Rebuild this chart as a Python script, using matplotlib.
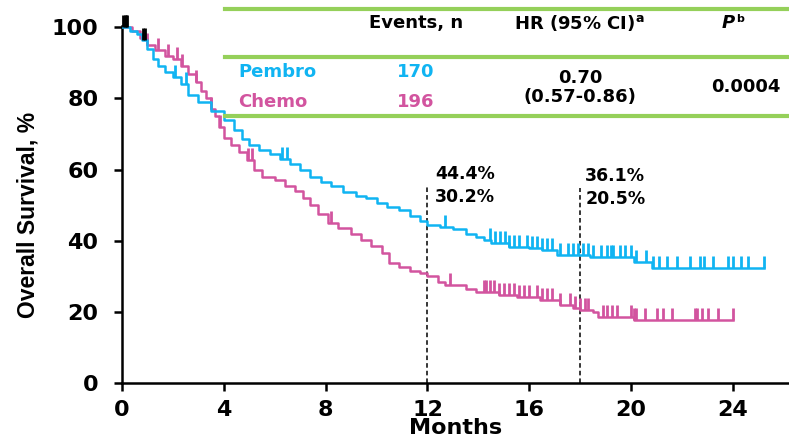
import numpy as np
import matplotlib.pyplot as plt

plt.rcParams['font.family'] = ['DejaVu Sans']
plt.rcParams['font.weight'] = 'bold'
plt.rcParams['mathtext.default'] = 'bf'

BLUE = '#10B4F2'
PINK = '#D2549F'
GREEN = '#95D05A'

# Kaplan-Meier steps (months, % alive)
pem_t = [0, 0.3, 0.6, 0.8, 1.0, 1.2, 1.4, 1.7, 2.0, 2.3, 2.6, 3.0, 3.5, 4.0, 4.4, 4.7,
         5.0, 5.4, 5.8, 6.2, 6.6, 7.0, 7.4, 7.8, 8.2, 8.7, 9.2, 9.6, 10.0, 10.4, 10.9,
         11.3, 11.7, 12.0, 12.5, 13.0, 13.5, 13.9, 14.2, 14.5, 15.2, 16.0, 16.5, 17.1,
         18.4, 20.1, 20.8, 25.2]
pem_s = [100, 99, 98, 96.5, 94, 91, 89, 87.5, 86, 84, 81, 79, 76.5, 74, 71, 68.5,
         67, 65.5, 64.5, 63, 61.5, 60, 58, 56.5, 55.5, 53.7, 52.5, 52, 50.5, 49.5, 48.6,
         47, 45.5, 44.4, 43.8, 43.2, 42, 41, 40.2, 39.3, 38.2, 38, 37.5, 36.1,
         35.5, 34, 32.3, 32.3]

chemo_t = [0, 0.4, 0.7, 1.0, 1.3, 1.7, 2.0, 2.3, 2.6, 2.9, 3.1, 3.3, 3.5, 3.65, 3.8, 4.0,
           4.3, 4.6, 4.9, 5.2, 5.5, 6.0, 6.4, 6.8, 7.1, 7.4, 7.7, 8.1, 8.5, 9.0, 9.4, 9.8,
           10.2, 10.5, 10.9, 11.3, 11.7, 12.0, 12.4, 12.7, 13.5, 13.9, 14.8, 15.5, 16.4,
           17.2, 17.7, 18.0, 18.5, 18.7, 20.1, 24.0]
chemo_s = [100, 99, 97, 95, 93.5, 92, 91, 89, 87, 84.5, 82, 80, 77, 75, 72, 69,
           67, 65, 62.6, 60, 58, 57, 55.5, 54, 52, 50, 47.5, 45, 43.5, 42, 40.2, 38.5,
           36.5, 33.7, 32.5, 31.5, 30.9, 30.2, 28.5, 27.5, 26.5, 25.6, 24.8, 24.2, 23.3,
           22, 21, 20.5, 20, 18.5, 17.7, 17.7]

# censored times
pem_cens = [2.1, 2.5, 6.3, 6.5, 12.7, 14.46, 14.65, 14.85, 15.05, 15.2, 15.4, 15.6, 15.9,
            16.1, 16.3, 16.5, 16.7, 16.9, 17.2, 17.5, 17.7, 17.9, 18.1, 18.3, 18.5, 18.8,
            19.05, 19.2, 19.3, 19.55, 19.75, 20.0, 20.2, 20.6, 20.85, 21.1, 21.4, 21.8,
            22.3, 22.7, 22.85, 23.2, 23.8, 24.0, 24.3, 24.6, 25.2]
chemo_cens = [1.0, 1.4, 1.8, 2.15, 2.35, 2.9, 3.5, 3.85, 4.95, 5.1, 8.2, 12.9, 14.2, 14.3,
              14.46, 14.6, 14.8, 15.0, 15.2, 15.4, 15.6, 15.8, 16.0, 16.3, 16.5, 16.7,
              16.9, 17.2, 17.6, 17.8, 18.0, 18.2, 18.3, 18.9, 19.05, 19.25, 19.45, 20.0,
              20.1, 20.2, 20.55, 21.0, 21.25, 21.6, 22.5, 22.6, 22.8, 23.0, 23.4, 24.0]
black_cens = [0.05, 0.1, 0.15, 0.2, 0.82, 0.9]

landmarks = [12, 18]
pem_pct = ['44.4%', '36.1%']
chemo_pct = ['30.2%', '20.5%']


def surv_at(t, s, c):
    idx = np.searchsorted(t, c, side='right') - 1
    return np.array(s)[idx]


fig = plt.figure(figsize=(7.89, 4.45), dpi=100)
ax = fig.add_axes([122 / 789, 62 / 445, 667 / 789, 361 / 445])

ax.step(pem_t, pem_s, where='post', color=BLUE, lw=1.8, zorder=3)
ax.step(chemo_t, chemo_s, where='post', color=PINK, lw=1.8, zorder=2)

ps = surv_at(pem_t, pem_s, pem_cens)
ax.vlines(pem_cens, ps, ps + 3.4, color=BLUE, lw=2, zorder=3)
cs = surv_at(chemo_t, chemo_s, chemo_cens)
ax.vlines(chemo_cens, cs, cs + 3.4, color=PINK, lw=2, zorder=2)
bs = surv_at(pem_t, pem_s, black_cens)
ax.vlines(black_cens, bs, bs + 3.4, color='black', lw=2, zorder=4, clip_on=False)

# landmark lines
ax.plot([12, 12], [0, 55.6], color='black', lw=1.1, ls=(0, (3, 2)), zorder=1)
ax.plot([18, 18], [0, 54.8], color='black', lw=1.1, ls=(0, (3, 2)), zorder=1)
ax.text(12.3, 58.8, pem_pct[0], fontsize=12.5, ha='left', va='center')
ax.text(12.3, 52.4, chemo_pct[0], fontsize=12.5, ha='left', va='center')
ax.text(18.2, 58.1, pem_pct[1], fontsize=12.5, ha='left', va='center')
ax.text(18.2, 51.8, chemo_pct[1], fontsize=12.5, ha='left', va='center')

ax.set_xlim(0, 26.2)
ax.set_ylim(0, 101.5)
ax.set_xticks(range(0, 25, 4))
ax.set_yticks(range(0, 101, 20))
for sp in ['top', 'right']:
    ax.spines[sp].set_visible(False)
for sp in ['left', 'bottom']:
    ax.spines[sp].set_linewidth(1.8)
ax.spines['left'].set_bounds(0, 100.5)
ax.tick_params(axis='both', length=6, width=1.8, labelsize=16)
ax.tick_params(axis='y', pad=11)
ax.tick_params(axis='x', pad=6)
ax.set_xlabel('Months', fontsize=16, fontweight='bold', labelpad=-1)
fig.text(28 / 789, 1 - 215 / 445, 'Overall Survival, %', rotation=90,
         ha='center', va='center', fontsize=16.5, family='Liberation Sans')

# results table
for yy in [9, 57, 116]:
    fig.add_artist(plt.Line2D([225 / 789, 1.0], [1 - yy / 445] * 2, color=GREEN, lw=3))
fs = 13
fig.text(416 / 789, 1 - 23 / 445, 'Events, n', ha='center', va='center', fontsize=fs)
fig.text(579 / 789, 1 - 23 / 445, 'HR (95% CI)$^{a}$', ha='center', va='center', fontsize=fs)
fig.text(735 / 789, 1 - 23 / 445, 'P', ha='right', va='center', fontsize=fs, style='italic')
fig.text(736 / 789, 1 - 19 / 445, 'b', ha='left', va='center', fontsize=8)
fig.text(238 / 789, 1 - 72 / 445, 'Pembro', ha='left', va='center', fontsize=fs, color=BLUE)
fig.text(238 / 789, 1 - 102 / 445, 'Chemo', ha='left', va='center', fontsize=fs, color=PINK)
fig.text(416 / 789, 1 - 72 / 445, '170', ha='center', va='center', fontsize=fs, color=BLUE)
fig.text(416 / 789, 1 - 102 / 445, '196', ha='center', va='center', fontsize=fs, color=PINK)
fig.text(580 / 789, 1 - 78 / 445, '0.70', ha='center', va='center', fontsize=fs)
fig.text(580 / 789, 1 - 97 / 445, '(0.57-0.86)', ha='center', va='center', fontsize=fs)
fig.text(746 / 789, 1 - 87 / 445, '0.0004', ha='center', va='center', fontsize=fs)

fig.savefig('out.png', dpi=100)
